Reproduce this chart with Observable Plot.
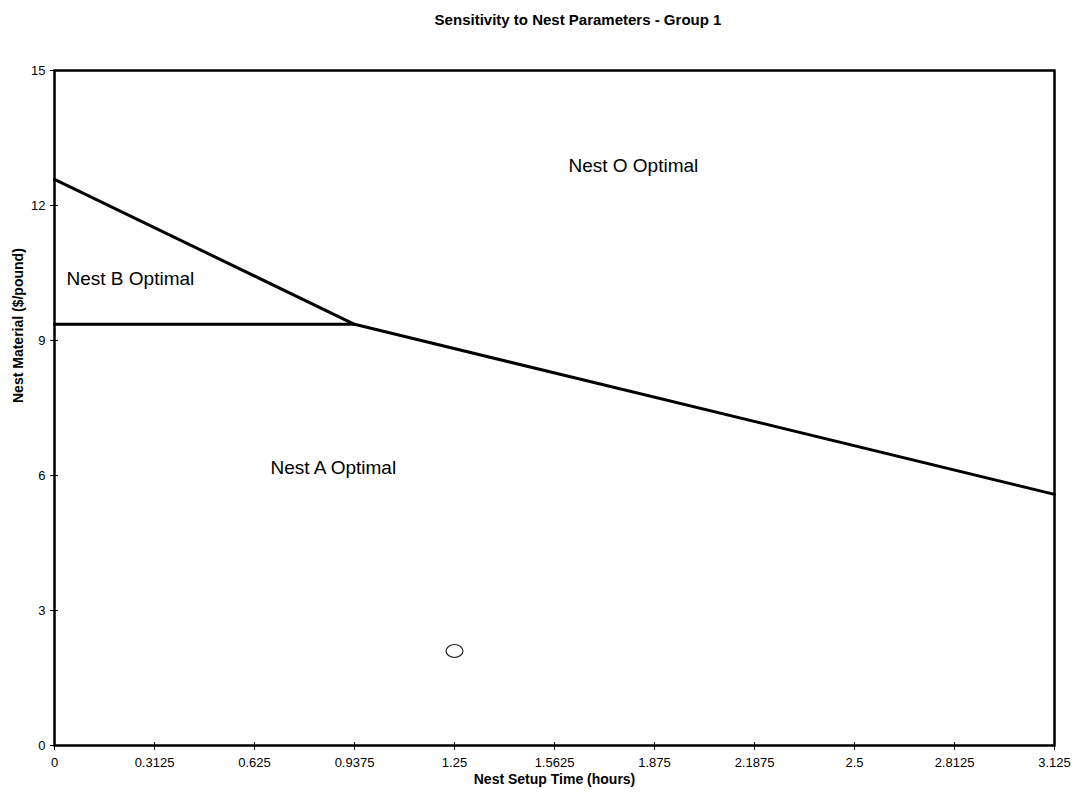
<!DOCTYPE html>
<html><head><meta charset="utf-8">
<script src="https://cdn.jsdelivr.net/npm/d3@7"></script>
<script src="https://cdn.jsdelivr.net/npm/@observablehq/plot@0.6"></script>
<style>
body{margin:0;background:#fff;font-family:"Liberation Sans",Arial,sans-serif;}
#title{height:40px;width:1076px;position:relative;}
#title span{position:absolute;left:578px;top:11px;transform:translateX(-50%);font-weight:bold;font-size:15px;white-space:nowrap;color:#000;}
#chart svg{display:block;}
</style></head><body>
<div id="title"><span>Sensitivity to Nest Parameters - Group 1</span></div>
<div id="chart"></div>
<script>
const xTicks = [0, 0.3125, 0.625, 0.9375, 1.25, 1.5625, 1.875, 2.1875, 2.5, 2.8125, 3.125];
const xTickLabels = ["0", "0.3125", "0.625", "0.9375", "1.25", "1.5625", "1.875", "2.1875", "2.5", "2.8125", "3.125"];
const yTicks = [0, 3, 6, 9, 12, 15];
const yTickLabels = ["0", "3", "6", "9", "12", "15"];

// Boundary lines
const boundaryBO_x = [0, 0.9375];
const boundaryBO_y = [12.58, 9.36];
const boundaryAB_x = [0, 0.9375];
const boundaryAB_y = [9.36, 9.36];
const boundaryAO_x = [0.9375, 3.125];
const boundaryAO_y = [9.36, 5.58];

// Region labels
const regionLabels = ["Nest B Optimal", "Nest A Optimal", "Nest O Optimal"];
const regionX = [0.0375, 0.675, 1.606];
const regionY = [10.36, 6.16, 12.89];

// Current point
const pointX = [1.25];
const pointY = [2.1];

const xLabel = "Nest Setup Time (hours)";
const yLabel = "Nest Material ($/pound)";

const ellipse = {draw(ctx, size) {
  const r = Math.sqrt(size / Math.PI), rx = r * 1.3, ry = r, k = 0.5523;
  ctx.moveTo(rx, 0);
  ctx.bezierCurveTo(rx, ry * k, rx * k, ry, 0, ry);
  ctx.bezierCurveTo(-rx * k, ry, -rx, ry * k, -rx, 0);
  ctx.bezierCurveTo(-rx, -ry * k, -rx * k, -ry, 0, -ry);
  ctx.bezierCurveTo(rx * k, -ry, rx, -ry * k, rx, 0);
  ctx.closePath();
}};
const vTick = {draw(ctx) { ctx.moveTo(0, -3.5); ctx.lineTo(0, 4.5); }};
const hTick = {draw(ctx) { ctx.moveTo(-4.5, 0); ctx.lineTo(3.5, 0); }};

const chart = Plot.plot({
  width: 1076,
  height: 754,
  marginLeft: 54,
  marginRight: 22,
  marginTop: 30,
  marginBottom: 49,
  style: {fontFamily: "'Liberation Sans', Arial, sans-serif", background: "#fff", color: "#000"},
  x: {domain: [0, 3.125]},
  y: {domain: [0, 15]},
  marks: [
    Plot.axisX(xTicks, {tickSize: 0, tickPadding: 12, fontSize: 13, tickFormat: (d, i) => xTickLabels[i], label: null}),
    Plot.axisY(yTicks, {tickSize: 0, tickPadding: 9, fontSize: 13, tickFormat: (d, i) => yTickLabels[i], label: null}),
    Plot.dot(xTicks, {x: xTicks, y: xTicks.map(() => 0), symbol: vTick, stroke: "#000", strokeWidth: 1, fill: "none", r: 4}),
    Plot.dot(yTicks, {x: yTicks.map(() => 0), y: yTicks, symbol: hTick, stroke: "#000", strokeWidth: 1, fill: "none", r: 4}),
    Plot.line(boundaryBO_x, {x: boundaryBO_x, y: boundaryBO_y, stroke: "#000", strokeWidth: 3}),
    Plot.line(boundaryAB_x, {x: boundaryAB_x, y: boundaryAB_y, stroke: "#000", strokeWidth: 3}),
    Plot.line(boundaryAO_x, {x: boundaryAO_x, y: boundaryAO_y, stroke: "#000", strokeWidth: 3}),
    Plot.frame({stroke: "#000", strokeWidth: 2.5}),
    Plot.text(regionLabels, {x: regionX, y: regionY, text: d => d, textAnchor: "start", fontSize: 19, fill: "#000"}),
    Plot.dot(pointX, {x: pointX, y: pointY, symbol: ellipse, r: 6.5, stroke: "#222", strokeWidth: 1.2, fill: "none"}),
    Plot.text([xLabel], {frameAnchor: "bottom", dy: 38, text: d => d, fontWeight: "bold", fontSize: 14, fill: "#000"}),
    Plot.text([yLabel], {frameAnchor: "left", dx: -36, dy: -5, rotate: -90, text: d => d, fontWeight: "bold", fontSize: 14, fill: "#000"})
  ]
});
document.getElementById("chart").appendChild(chart);
</script>
</body></html>
